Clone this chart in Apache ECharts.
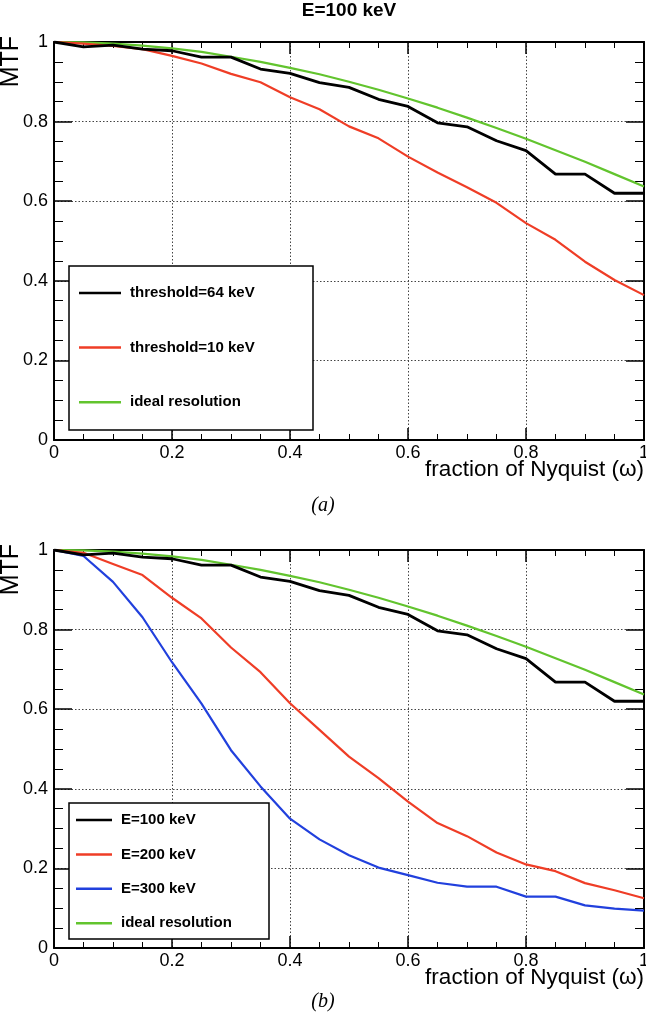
<!DOCTYPE html>
<html>
<head>
<meta charset="utf-8">
<script src="https://cdn.jsdelivr.net/npm/echarts@6/dist/echarts.min.js"></script>
<style>
html,body{margin:0;padding:0;background:#fff;}
#c{width:646px;height:1026px;}
</style>
</head>
<body>
<div id="c"></div>
<script>
// ---- data ----
const omega = [0,0.05,0.1,0.15,0.2,0.25,0.3,0.35,0.4,0.45,0.5,0.55,0.6,0.65,0.7,0.75,0.8,0.85,0.9,0.95,1.0];
const idealRes = [1.0,0.999,0.996,0.991,0.984,0.975,0.963,0.950,0.935,0.919,0.900,0.880,0.858,0.835,0.810,0.784,0.757,0.728,0.699,0.668,0.637];
const thr64 = [1.0,0.988,0.992,0.982,0.978,0.962,0.962,0.932,0.921,0.898,0.886,0.856,0.838,0.797,0.787,0.752,0.727,0.668,0.668,0.620,0.620];
const thr10 = [1.0,0.996,0.990,0.982,0.965,0.946,0.920,0.899,0.861,0.831,0.788,0.758,0.712,0.672,0.635,0.596,0.545,0.503,0.448,0.402,0.364];
const e100 = [1.0,0.988,0.992,0.982,0.978,0.962,0.962,0.932,0.921,0.898,0.886,0.856,0.838,0.797,0.787,0.752,0.727,0.668,0.668,0.620,0.620];
const e200 = [1.0,0.993,0.965,0.937,0.880,0.828,0.755,0.693,0.615,0.548,0.481,0.427,0.368,0.314,0.281,0.240,0.210,0.193,0.163,0.145,0.125];
const e300 = [1.0,0.985,0.920,0.831,0.718,0.614,0.497,0.406,0.325,0.273,0.233,0.202,0.183,0.164,0.154,0.154,0.129,0.129,0.107,0.099,0.094];
const axisTicks = [0,0.2,0.4,0.6,0.8,1];
const namesA = ['threshold=64 keV','threshold=10 keV','ideal resolution'];
const namesB = ['E=100 keV','E=200 keV','E=300 keV','ideal resolution'];
const titleText = 'E=100 keV';
const xTitle = 'fraction of Nyquist (\u03c9)';
const yTitle = 'MTF';

// ---- styling ----
const FONT = '"Liberation Sans", Arial, Helvetica, sans-serif';
const BLACK = '#000000', RED = '#ef3d26', GREEN = '#62c42e', BLUE = '#2140dd';

const pairs = v => omega.map((x,i)=>[x, v[i]]);
const fmt = v => { const r = Math.round(v*10)/10; return axisTicks.indexOf(r) >= 0 ? String(r) : ''; };

function xAxes(grid){
  const common = {
    type:'value', gridIndex:grid, min:0, max:1, interval:0.2,
    axisLine:{show:true, onZero:false, lineStyle:{color:'#000', width:2}},
    axisTick:{show:true, inside:true, length:12, lineStyle:{color:'#000', width:1.5}},
    minorTick:{show:true, splitNumber:4, length:6, lineStyle:{color:'#000', width:1}},
  };
  return [
    Object.assign({}, common, {
      position:'bottom',
      axisLabel:{show:true, margin:4, fontSize:18, color:'#000', fontFamily:FONT, formatter:fmt},
      splitLine:{show:true, lineStyle:{color:'#444', width:1, type:[1.5,2]}}
    }),
    Object.assign({}, common, {
      position:'top', axisLabel:{show:false}, splitLine:{show:false}
    })
  ];
}
function yAxes(grid){
  const common = {
    type:'value', gridIndex:grid, min:0, max:1, interval:0.2,
    axisLine:{show:true, onZero:false, lineStyle:{color:'#000', width:2}},
    axisTick:{show:true, inside:true, length:18, lineStyle:{color:'#000', width:1.5}},
    minorTick:{show:true, splitNumber:4, length:9, lineStyle:{color:'#000', width:1}},
  };
  return [
    Object.assign({}, common, {
      position:'left',
      axisLabel:{show:true, margin:6, fontSize:18, color:'#000', fontFamily:FONT, formatter:fmt},
      splitLine:{show:true, lineStyle:{color:'#444', width:1, type:[1.5,2]}},
      name:yTitle, nameLocation:'end', nameGap:6, nameRotate:90,
      nameTextStyle:{fontSize:25, color:'#000', fontFamily:FONT, align:'right', verticalAlign:'bottom', padding:[0,0,30,0]}
    }),
    Object.assign({}, common, {
      position:'right', axisLabel:{show:false}, splitLine:{show:false}
    })
  ];
}

function line(name, data, color, width, xi, yi){
  return {
    type:'line', name:name, data:pairs(data), xAxisIndex:xi, yAxisIndex:yi,
    showSymbol:false, symbol:'none', color:color,
    lineStyle:{color:color, width:width}, itemStyle:{color:color},
    emphasis:{disabled:true}, animation:false, z:2
  };
}

function legend(names, top, left, gap, iw){
  return {
    data:names, orient:'vertical', left:left, top:top, itemGap:gap,
    icon:'rect', itemWidth:iw, itemHeight:2.5, padding:0, z:5,
    selectedMode:false,
    textStyle:{fontSize:15, fontWeight:'bold', color:'#000', fontFamily:FONT, lineHeight:16, padding:[0,0,0,4]}
  };
}

function xTitleText(y){
  return {type:'text', z:6, x:644, y:y,
    style:{text:xTitle, fill:'#000', font:'22.5px ' + FONT, align:'right', verticalAlign:'top'}};
}

const chart = echarts.init(document.getElementById('c'), null, {renderer:'canvas'});
chart.setOption({
  backgroundColor:'#fff',
  animation:false,
  title:[
    {text:titleText, left:349, top:1, textAlign:'center', padding:0,
     textStyle:{fontSize:19, fontWeight:'bold', color:'#000', fontFamily:FONT}},
    {text:'(a)', left:323, top:496, textAlign:'center', padding:0,
     textStyle:{fontSize:20, fontWeight:'normal', fontStyle:'italic', color:'#000', fontFamily:'"Liberation Serif", "Times New Roman", serif'}},
    {text:'(b)', left:323, top:992, textAlign:'center', padding:0,
     textStyle:{fontSize:20, fontWeight:'normal', fontStyle:'italic', color:'#000', fontFamily:'"Liberation Serif", "Times New Roman", serif'}}
  ],
  grid:[
    {left:54, top:42, width:590, height:398, containLabel:false, outerBoundsMode:'none'},
    {left:54, top:550, width:590, height:398, containLabel:false, outerBoundsMode:'none'}
  ],
  xAxis: xAxes(0).concat(xAxes(1)),
  yAxis: yAxes(0).concat(yAxes(1)),
  legend:[
    legend(namesA, 285, 79, 38.6, 42),
    legend(namesB, 812, 76, 18.4, 36)
  ],
  graphic:[
    {type:'rect', z:3, shape:{x:69, y:266, width:244, height:164}, style:{fill:'#fff', stroke:'#000', lineWidth:1.5}},
    {type:'rect', z:3, shape:{x:69, y:803, width:200, height:136}, style:{fill:'#fff', stroke:'#000', lineWidth:1.5}},
    xTitleText(458),
    xTitleText(966)
  ],
  series:[
    line(namesA[2], idealRes, GREEN, 2.2, 0, 0),
    line(namesA[1], thr10, RED, 2.2, 0, 0),
    line(namesA[0], thr64, BLACK, 2.8, 0, 0),
    line(namesB[3], idealRes, GREEN, 2.2, 2, 2),
    line(namesB[2], e300, BLUE, 2.2, 2, 2),
    line(namesB[1], e200, RED, 2.2, 2, 2),
    line(namesB[0], e100, BLACK, 2.8, 2, 2)
  ]
});
</script>
</body>
</html>
